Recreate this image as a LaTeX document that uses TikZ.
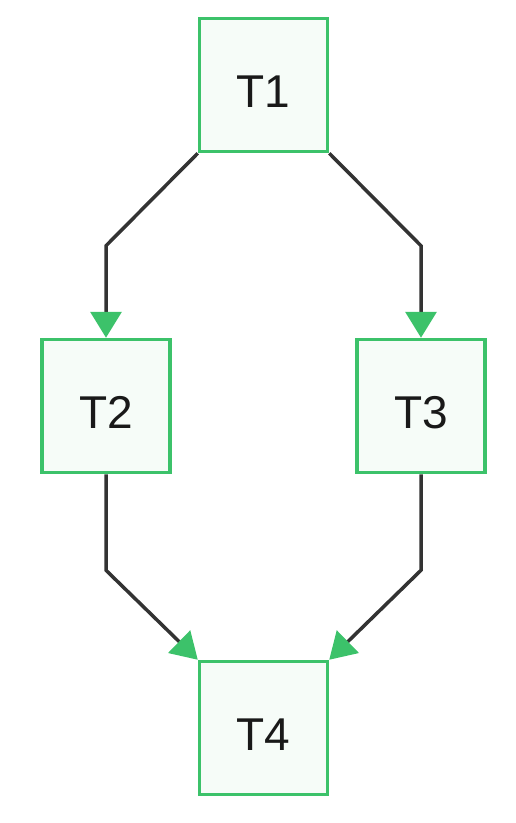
\documentclass[tikz,border=0pt]{standalone}
\usepackage{fontspec}
\setmainfont{Liberation Sans}
\usetikzlibrary{arrows.meta}
\usetikzlibrary{calc}
\definecolor{taskgreen}{HTML}{3CC26A}
\definecolor{taskfill}{HTML}{F6FCF8}
\definecolor{edgegray}{HTML}{333333}

\begin{document}
\begin{tikzpicture}[x=1pt,y=-1pt,
	task/.style={draw=taskgreen,fill=taskfill,line width=3.5pt,minimum width=128pt,minimum height=133pt,inner sep=0pt,text height=45pt,text depth=0pt,font=\fontsize{46}{46}\selectfont,text=black!90},
	dep/.style={draw=edgegray,line width=3.5pt,-{Triangle[length=26pt,width=31pt,color=taskgreen]}}]
	% canvas 516 x 823 px
	\useasboundingbox (0,0) rectangle (516,823);
	
	% tasks
	\node[task] (T1) at (263.5,85) {T1};
	\node[task] (T2) at (106,406) {T2};
	\node[task] (T3) at (421,406) {T3};
	\node[task] (T4) at (263.5,728) {T4};
	
	% T1 forks into T2 and T3
	\draw[dep] (T1.south west) -- ($(T2.north)+(0,-92)$) -- (T2.north);
	\draw[dep] (T1.south east) -- ($(T3.north)+(0,-92)$) -- (T3.north);
	
	% T2 and T3 join into T4
	\draw[dep] (T2.south) -- ++(0,96) -- (T4.north west);
	\draw[dep] (T3.south) -- ++(0,96) -- (T4.north east);
\end{tikzpicture}
\end{document}
